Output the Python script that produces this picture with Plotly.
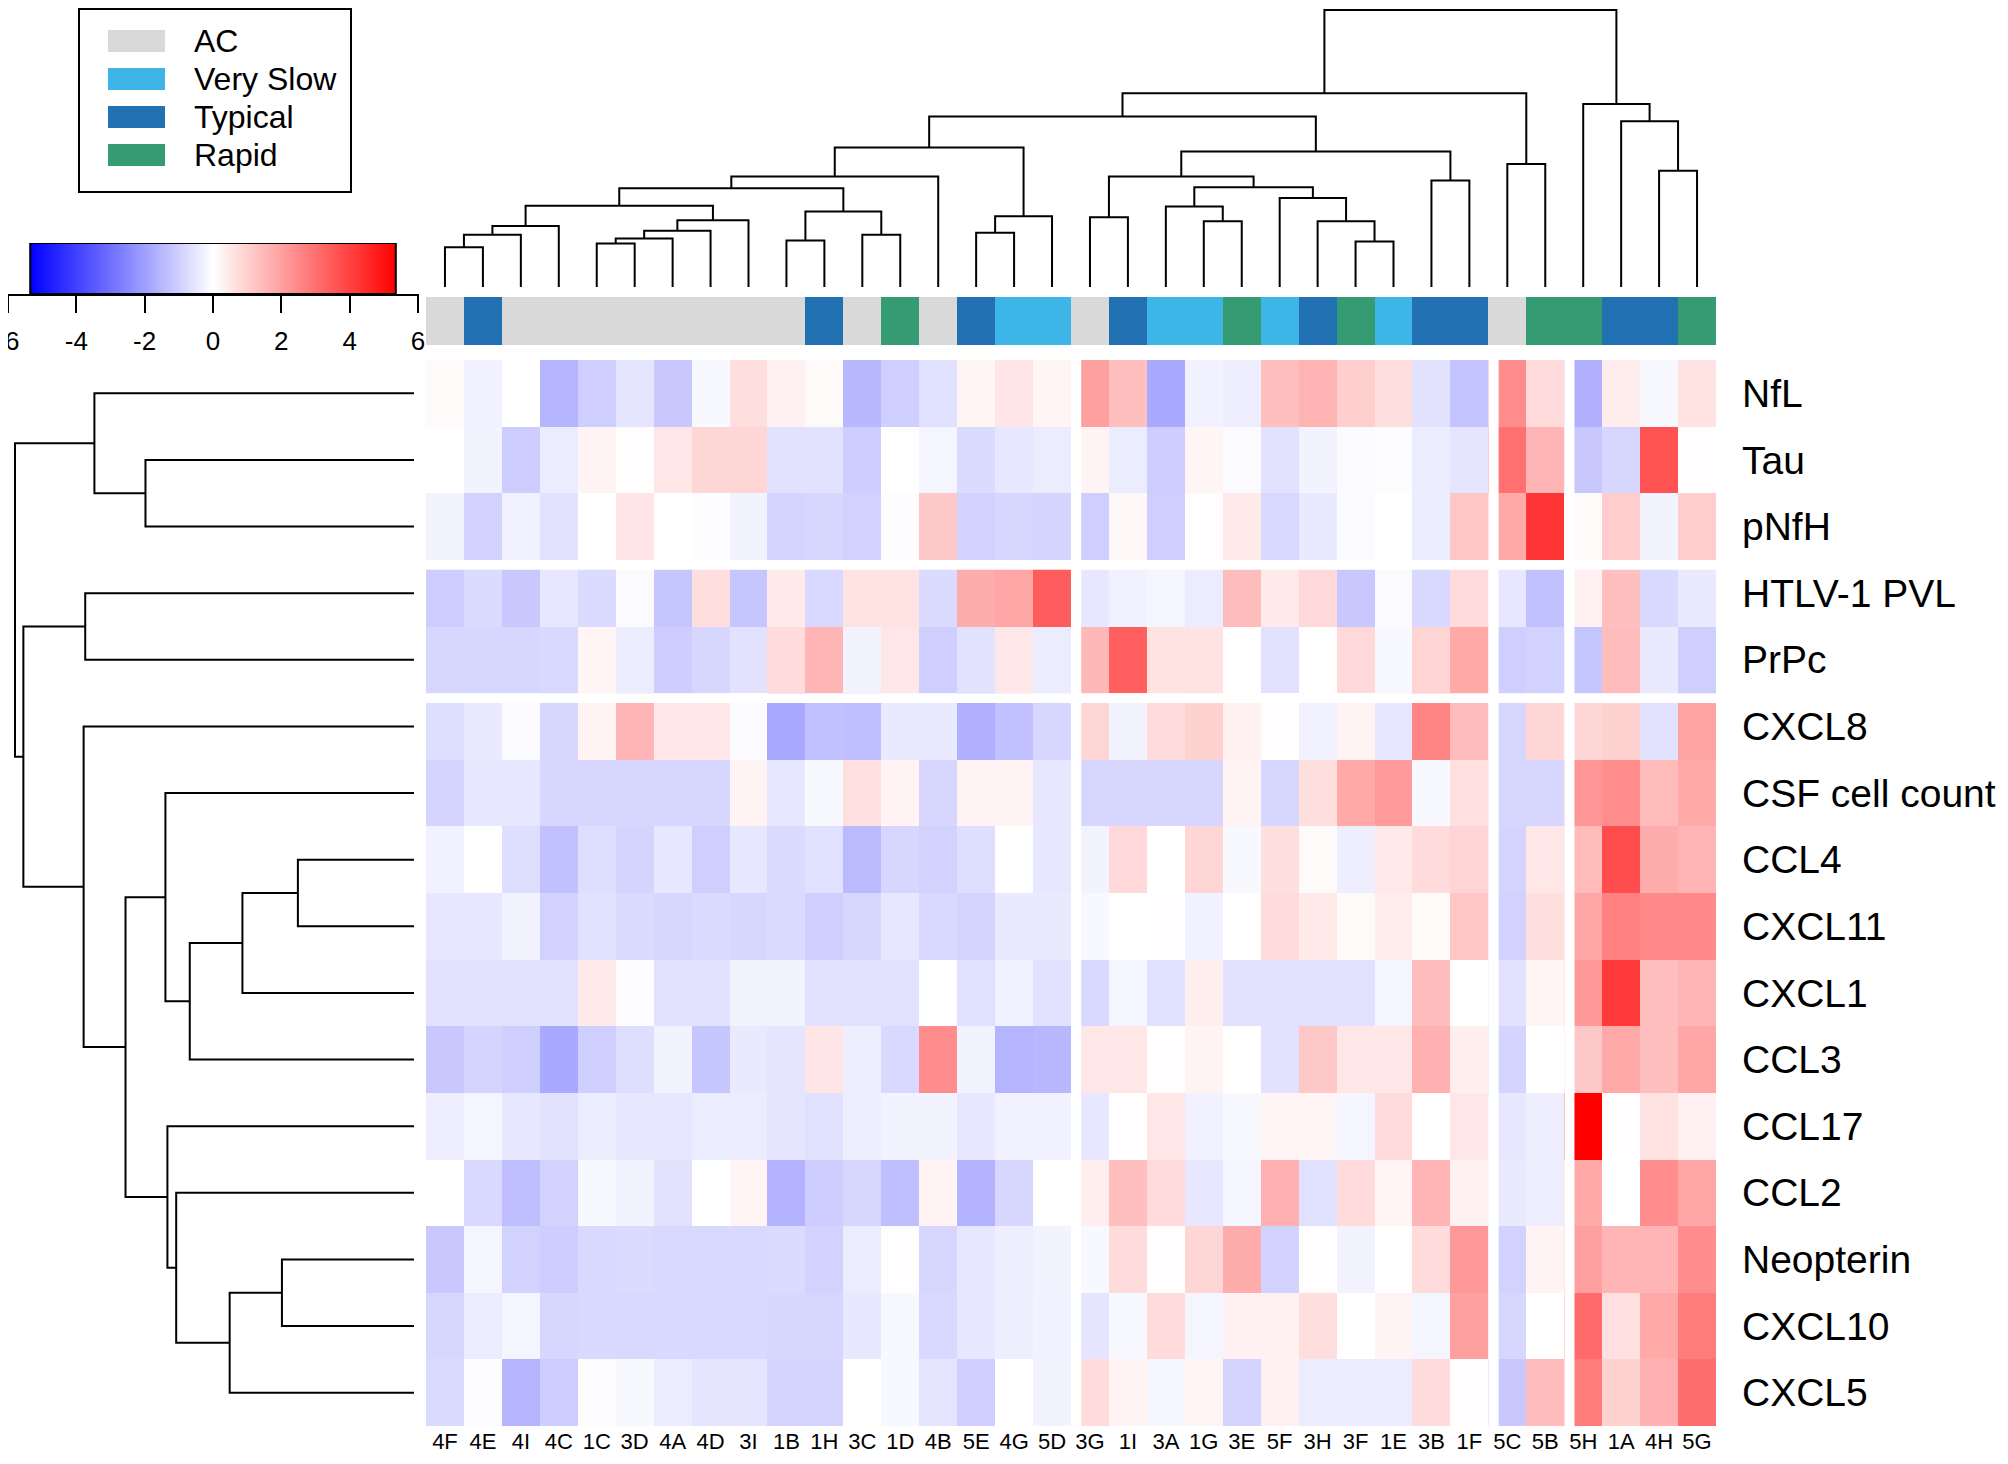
import plotly.graph_objects as go

# ---- data ----
samples = ['4F', '4E', '4I', '4C', '1C', '3D', '4A', '4D', '3I', '1B', '1H', '3C', '1D', '4B', '5E', '4G', '5D',
           '3G', '1I', '3A', '1G', '3E', '5F', '3H', '3F', '1E', '3B', '1F', '5C', '5B', '5H', '1A', '4H', '5G']
groups = ['AC', 'Typical', 'AC', 'AC', 'AC', 'AC', 'AC', 'AC', 'AC', 'AC', 'Typical', 'AC', 'Rapid', 'AC',
          'Typical', 'Very Slow', 'Very Slow', 'AC', 'Typical', 'Very Slow', 'Very Slow', 'Rapid', 'Very Slow',
          'Typical', 'Rapid', 'Very Slow', 'Typical', 'Typical', 'AC', 'Rapid', 'Rapid', 'Typical', 'Typical', 'Rapid']
group_names = ['AC', 'Very Slow', 'Typical', 'Rapid']
group_colors = ['#d9d9d9', '#3db5e7', '#2271b2', '#359b73']

markers = ['NfL', 'Tau', 'pNfH', 'HTLV-1 PVL', 'PrPc', 'CXCL8', 'CSF cell count', 'CCL4', 'CXCL11',
           'CXCL1', 'CCL3', 'CCL17', 'CCL2', 'Neopterin', 'CXCL10', 'CXCL5']

nfl = [0.1, -0.3, 0, -1.55, -1.0, -0.55, -1.15, -0.15, 0.7, 0.3, 0.1, -1.5, -1.0, -0.65, 0.2, 0.55, 0.2,
       2.0, 1.35, -1.8, -0.3, -0.35, 1.35, 1.6, 1.0, 0.7, -0.6, -1.25, 2.4, 0.75, -1.65, 0.4, -0.15, 0.6]
tau = [0, -0.25, -1.05, -0.4, 0.25, 0.05, 0.5, 0.85, 0.85, -0.6, -0.6, -1.05, 0, -0.2, -0.75, -0.5, -0.4,
       0.25, -0.4, -1.05, 0.2, -0.1, -0.6, -0.25, -0.1, -0.05, -0.4, -0.55, 3.0, 1.55, -1.15, -0.85, 3.6, 0.05]
pnfh = [-0.25, -0.95, -0.3, -0.6, 0, 0.55, 0, -0.05, -0.25, -0.9, -0.85, -0.95, -0.05, 1.15, -0.95, -0.85, -0.9,
        -1.0, 0.15, -1.0, 0.05, 0.45, -0.8, -0.45, -0.1, 0, -0.4, 1.2, 1.8, 4.25, 0.1, 1.05, -0.25, 1.05]
htlv = [-1.05, -0.75, -1.15, -0.5, -0.75, -0.1, -1.2, 0.7, -1.2, 0.45, -0.8, 0.6, 0.6, -0.75, 1.75, 1.85, 3.4,
        -0.5, -0.3, -0.2, -0.4, 1.4, 0.45, 0.8, -1.15, -0.1, -0.8, 0.75, -0.5, -1.3, 0.3, 1.35, -0.8, -0.45]
prpc = [-0.85, -0.85, -0.85, -0.8, 0.2, -0.4, -1.05, -0.85, -0.6, 0.75, 1.55, -0.25, 0.5, -1.0, -0.6, 0.5, -0.4,
        1.5, 3.35, 0.6, 0.6, 0, -0.6, 0, 0.8, -0.15, 0.9, 1.8, -1.0, -0.95, -1.2, 1.4, -0.45, -1.0]
cxcl8 = [-0.7, -0.45, -0.1, -0.85, 0.25, 1.55, 0.5, 0.5, -0.1, -1.8, -1.3, -1.35, -0.45, -0.45, -1.65, -1.3, -0.85,
         0.85, -0.25, 0.75, 0.95, 0.3, 0.05, -0.3, 0.25, -0.5, 2.55, 1.4, -0.85, 0.85, 0.85, 0.95, -0.6, 1.9]
csf = [-0.9, -0.5, -0.5, -0.85, -0.85, -0.85, -0.85, -0.85, 0.25, -0.5, -0.15, 0.65, 0.25, -0.85, 0.25, 0.25, -0.5,
       -0.85, -0.85, -0.85, -0.85, 0.25, -0.85, 0.7, 1.8, 2.1, -0.15, 0.65, -0.85, -0.85, 2.2, 2.4, 1.45, 1.8]
ccl4 = [-0.3, 0, -0.7, -1.3, -0.7, -0.9, -0.5, -1.0, -0.5, -0.75, -0.65, -1.45, -0.85, -0.95, -0.7, 0, -0.5,
        -0.25, 0.8, 0, 0.85, -0.15, 0.7, 0.1, -0.35, 0.45, 0.75, 0.9, -0.9, 0.5, 1.45, 3.75, 1.75, 1.55]
cxcl11 = [-0.5, -0.5, -0.25, -0.95, -0.65, -0.75, -0.85, -0.75, -0.85, -0.75, -1.0, -0.85, -0.5, -0.8, -0.9, -0.45, -0.45,
          -0.15, 0, 0.05, -0.3, 0, 0.75, 0.45, 0.1, 0.4, 0.1, 1.2, -0.95, 0.7, 1.85, 2.65, 2.5, 2.5]
cxcl1 = [-0.6, -0.6, -0.6, -0.6, 0.45, -0.05, -0.6, -0.6, -0.25, -0.25, -0.6, -0.6, -0.6, 0, -0.65, -0.3, -0.6,
         -0.8, -0.2, -0.65, 0.35, -0.6, -0.6, -0.6, -0.6, -0.2, 1.4, 0, -0.6, 0.2, 2.15, 4.15, 1.35, 1.55]
ccl3 = [-1.15, -0.9, -1.0, -1.8, -1.0, -0.7, -0.25, -1.2, -0.45, -0.55, 0.55, -0.35, -0.8, 2.4, -0.25, -1.55, -1.5,
        0.5, 0.5, 0.05, 0.25, 0, -0.6, 1.15, 0.5, 0.5, 1.65, 0.35, -0.9, 0, 1.15, 1.8, 1.35, 1.85]
ccl17 = [-0.35, -0.2, -0.5, -0.6, -0.4, -0.5, -0.5, -0.4, -0.4, -0.55, -0.65, -0.35, -0.25, -0.25, -0.5, -0.3, -0.3,
         -0.5, 0.05, 0.5, -0.3, -0.15, 0.2, 0.2, -0.2, 0.75, 0, 0.5, -0.5, -0.35, 5.35, 0.05, 0.6, 0.3]
ccl2 = [0, -0.8, -1.35, -0.95, -0.15, -0.25, -0.6, 0, 0.2, -1.6, -1.05, -0.85, -1.35, 0.25, -1.6, -0.85, 0,
        0.35, 1.35, 0.75, -0.5, -0.2, 1.65, -0.65, 0.75, 0.2, 1.55, 0.3, -0.45, -0.35, 1.8, 0, 2.4, 1.85]
neopterin = [-1.15, -0.2, -0.95, -1.05, -0.8, -0.75, -0.8, -0.8, -0.8, -0.75, -0.95, -0.4, 0.05, -0.85, -0.5, -0.35, -0.25,
             -0.15, 0.75, 0.05, 0.85, 1.75, -0.95, 0.05, -0.25, 0, 0.75, 2.15, -0.95, 0.25, 2.0, 1.55, 1.55, 2.4]
cxcl10 = [-0.85, -0.4, -0.2, -0.85, -0.8, -0.8, -0.8, -0.8, -0.8, -0.85, -0.85, -0.5, -0.15, -0.8, -0.5, -0.35, -0.3,
          -0.55, -0.15, 0.75, -0.2, 0.3, 0.3, 0.7, 0, 0.25, -0.2, 2.0, -0.85, 0, 3.1, 0.65, 1.8, 2.75]
cxcl5 = [-0.75, -0.05, -1.55, -1.05, -0.05, -0.15, -0.4, -0.55, -0.55, -0.9, -0.9, 0, -0.15, -0.55, -1.0, 0, -0.25,
         0.75, 0.25, -0.2, 0.2, -0.9, 0.3, -0.4, -0.4, -0.4, 0.75, 0.05, -1.15, 1.4, 2.75, 0.95, 1.65, 3.05]

z = [nfl, tau, pnfh, htlv, prpc, cxcl8, csf, ccl4, cxcl11, cxcl1, ccl3, ccl17, ccl2, neopterin, cxcl10, cxcl5]

# hierarchical clustering merges: (child a, child b, height); node ids continue after the leaves
col_merges = [(0, 1, 41), (34, 2, 54), (35, 3, 63), (4, 5, 45), (37, 6, 50), (38, 7, 58), (39, 8, 69),
              (36, 40, 84), (9, 10, 48), (11, 12, 54), (42, 43, 78), (41, 44, 102), (45, 13, 114),
              (14, 15, 56), (47, 16, 73), (46, 48, 144), (17, 18, 72), (20, 21, 68), (19, 51, 83),
              (24, 25, 47), (23, 53, 68), (22, 54, 92), (52, 55, 103), (50, 56, 114), (26, 27, 110),
              (57, 58, 140), (49, 59, 176), (28, 29, 127), (60, 61, 200), (32, 33, 120), (31, 63, 171),
              (30, 64, 189), (62, 65, 286)]
row_merges = [(1, 2, 0.673), (0, 16, 0.801), (3, 4, 0.824), (7, 8, 0.291), (19, 9, 0.430), (20, 10, 0.562),
              (6, 21, 0.623), (13, 14, 0.331), (23, 15, 0.462), (12, 24, 0.596), (11, 25, 0.618),
              (22, 26, 0.723), (5, 27, 0.828), (18, 28, 0.979), (17, 29, 1.0)]

col_gaps = [16, 27, 29]
row_gaps = [2, 4]
zlim = 5.35
cbar_ticks = [-6, -4, -2, 0, 2, 4, 6]

# ---- helpers ----
# the page body has an 8px margin on every side; keep the figure inside the window
OFF = 8
W, H = 2008 - 2 * OFF, 1464 - 2 * OFF
FONT = 'Arial, Liberation Sans, sans-serif'


def px(x):
    return min(max((x - OFF) / W, 0), 1)


def py(y):
    return min(max(1 - (y - OFF) / H, 0), 1)


def dendro(merges, n):
    pos = {i: (float(i), 0.0) for i in range(n)}
    a_s, h_s = [], []
    for k, (a, b, h) in enumerate(merges):
        xa, ha = pos[a]
        xb, hb = pos[b]
        a_s += [xa, xa, xb, xb, None]
        h_s += [ha, h, h, hb, None]
        pos[n + k] = ((xa + xb) / 2, h)
    return a_s, h_s


bwr = [[0, 'rgb(0,0,255)'], [0.5, 'rgb(255,255,255)'], [1, 'rgb(255,0,0)']]
ncol, nrow = len(samples), len(markers)

fig = go.Figure()

# main heatmap
fig.add_trace(go.Heatmap(z=z, x=list(range(ncol)), y=list(range(nrow)), colorscale=bwr,
                         zmin=-zlim, zmax=zlim, showscale=False, xaxis='x', yaxis='y'))

# annotation bar
ng = len(group_names)
cat_scale = []
for k, c in enumerate(group_colors):
    lo = max(0, (k - 0.5) / (ng - 1))
    hi = min(1, (k + 0.5) / (ng - 1))
    cat_scale += [[lo, c], [hi, c]]
fig.add_trace(go.Heatmap(z=[[group_names.index(g) for g in groups]], x=list(range(ncol)), y=[0],
                         colorscale=cat_scale, zmin=0, zmax=ng - 1, showscale=False,
                         xaxis='x2', yaxis='y2'))

# column dendrogram
cx, ch = dendro(col_merges, ncol)
fig.add_trace(go.Scatter(x=cx, y=ch, mode='lines', line=dict(color='black', width=2),
                         xaxis='x3', yaxis='y3', showlegend=False, hoverinfo='skip'))

# row dendrogram
ry, rh = dendro(row_merges, nrow)
fig.add_trace(go.Scatter(x=rh, y=ry, mode='lines', line=dict(color='black', width=2),
                         xaxis='x4', yaxis='y4', showlegend=False, hoverinfo='skip'))

# colour key
nb = 240
edges = [-zlim + 2 * zlim * i / nb for i in range(nb + 1)]
mids = [(edges[i] + edges[i + 1]) / 2 for i in range(nb)]
fig.add_trace(go.Heatmap(z=[mids], x=edges, y=[0, 1], colorscale=bwr, zmin=-zlim, zmax=zlim,
                         showscale=False, xaxis='x5', yaxis='y5'))

hm_x = [px(426), px(1716)]
hm_y = [py(1426), py(360)]
hidden = dict(visible=False, showgrid=False, zeroline=False, automargin=False)
col_top = max(h for _, _, h in col_merges)

fig.update_layout(
    width=W, height=H, autosize=False,
    margin=dict(l=0, r=0, t=0, b=0, pad=0),
    paper_bgcolor='white', plot_bgcolor='white',
    font=dict(family=FONT, color='black'),
    showlegend=False,
    xaxis=dict(domain=hm_x, range=[-0.5, ncol - 0.5], tickvals=list(range(ncol)), ticktext=samples,
               side='bottom', ticks='', showgrid=False, zeroline=False, showline=False, automargin=False,
               tickfont=dict(size=22), ticklabelstandoff=0, anchor='y'),
    yaxis=dict(domain=hm_y, range=[nrow - 0.5, -0.5], tickvals=list(range(nrow)), ticktext=markers,
               side='right', ticks='', showgrid=False, zeroline=False, showline=False, automargin=False,
               tickfont=dict(size=39), ticklabelstandoff=25, anchor='x'),
    xaxis2=dict(domain=hm_x, range=[-0.5, ncol - 0.5], anchor='y2', **hidden),
    yaxis2=dict(domain=[py(345), py(297)], range=[-0.5, 0.5], anchor='x2', **hidden),
    xaxis3=dict(domain=hm_x, range=[-0.5, ncol - 0.5], anchor='y3', **hidden),
    yaxis3=dict(domain=[py(287), py(9)], range=[0, col_top + 1], anchor='x3', **hidden),
    xaxis4=dict(domain=[px(13), px(414)], range=[1.005, 0], anchor='y4', **hidden),
    yaxis4=dict(domain=hm_y, range=[nrow - 0.5, -0.5], anchor='x4', **hidden),
    xaxis5=dict(domain=[px(OFF), px(419)], range=[cbar_ticks[0], cbar_ticks[-1] + 0.03], anchor='y5',
                tickvals=cbar_ticks, ticktext=[str(t) for t in cbar_ticks], ticks='outside',
                ticklen=17, tickwidth=2, tickcolor='black', showline=True, linecolor='black',
                linewidth=2, showgrid=False, zeroline=False, tickfont=dict(size=26),
                ticklabelstandoff=6, ticklabeloverflow='allow', automargin=False),
    yaxis5=dict(domain=[py(294), py(243)], range=[0, 1], anchor='x5', **hidden),
)

shapes = []
# gaps between clusters
for g in col_gaps:
    shapes.append(dict(type='rect', xref='x', yref='y', x0=g + 0.5, x1=g + 0.77, y0=-0.5, y1=nrow - 0.5,
                       fillcolor='white', line=dict(width=0), layer='above'))
for g in row_gaps:
    shapes.append(dict(type='rect', xref='x', yref='y', x0=-0.5, x1=ncol - 0.5, y0=g + 0.5, y1=g + 0.65,
                       fillcolor='white', line=dict(width=0), layer='above'))
# colour key outline
shapes.append(dict(type='rect', xref='x5', yref='y5', x0=-zlim, x1=zlim, y0=0, y1=1,
                   line=dict(color='black', width=2), fillcolor='rgba(0,0,0,0)'))
# legend box
shapes.append(dict(type='rect', xref='paper', yref='paper', x0=px(79), x1=px(351), y0=py(192), y1=py(9),
                   line=dict(color='black', width=2), fillcolor='rgba(0,0,0,0)'))
annotations = []
for k, (name, c) in enumerate(zip(group_names, group_colors)):
    yc = 41 + 38 * k
    shapes.append(dict(type='rect', xref='paper', yref='paper', x0=px(108), x1=px(165),
                       y0=py(yc + 11), y1=py(yc - 11), fillcolor=c, line=dict(width=0)))
    annotations.append(dict(text=name, xref='paper', yref='paper', x=px(192), y=py(yc),
                            xanchor='left', yanchor='middle', showarrow=False,
                            font=dict(size=32, family=FONT, color='black')))

fig.update_layout(shapes=shapes, annotations=annotations)

fig.write_html("out.html")
